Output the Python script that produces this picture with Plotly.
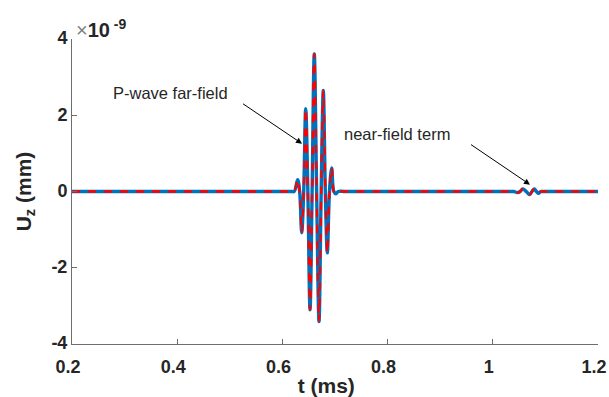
import plotly.graph_objects as go

# time (ms) and vertical displacement (x1e-9 mm)
t_ms = [0.2, 0.60, 0.618, 0.6225, 0.629, 0.6328, 0.6367, 0.6405, 0.6443, 0.6484,
        0.6525, 0.6565, 0.6606, 0.6651, 0.6696, 0.6737, 0.6778, 0.6816, 0.6854, 0.6895,
        0.6937, 0.6978, 0.7019, 0.706, 0.72, 1.00, 1.036, 1.040, 1.047, 1.052,
        1.057, 1.0635, 1.070, 1.0745, 1.079, 1.083, 1.087, 1.091, 1.095, 1.10, 1.2]
uz_analytic = [0, 0, 0, 0, 0.31, 0, -1.08, 0, 2.17, 0,
               -3.1, 0, 3.61, 0, -3.41, 0, 2.65, 0, -1.61, 0,
               0.62, 0, -0.06, 0, 0, 0, 0, 0, -0.03, 0,
               0.07, 0, -0.08, 0, 0.07, 0, -0.05, 0, 0, 0, 0]
uz_numeric = list(uz_analytic)

x_ticks = [0.2, 0.4, 0.6, 0.8, 1.0, 1.2]
x_ticklabels = ["0.2", "0.4", "0.6", "0.8", "1", "1.2"]
y_ticks = [-4, -2, 0, 2, 4]
y_ticklabels = ["-4", "-2", "0", "2", "4"]

FONT = "Liberation Sans, Arial, Helvetica, sans-serif"
AXC = "#6e6e6e"
TXT = "#262626"
NB = "\u00a0"

fig = go.Figure()
fig.add_trace(go.Scatter(x=t_ms, y=uz_analytic, mode="lines",
                         line=dict(color="#0072BD", width=3.4, shape="spline", smoothing=1),
                         showlegend=False, hoverinfo="skip"))
fig.add_trace(go.Scatter(x=t_ms, y=uz_numeric, mode="lines",
                         line=dict(color="#FF0000", width=2.3, dash="8px,8px", shape="spline", smoothing=1),
                         showlegend=False, hoverinfo="skip"))

fig.update_layout(
    width=609, height=397,
    margin=dict(l=72, r=11, t=39, b=53),
    paper_bgcolor="white", plot_bgcolor="white",
    font=dict(family=FONT, color=TXT),
    xaxis=dict(range=[0.2, 1.2], tickvals=x_ticks, ticktext=x_ticklabels,
               ticks="inside", ticklen=5, tickcolor=AXC, tickwidth=1,
               showline=True, linecolor=AXC, linewidth=1, mirror=False,
               showgrid=False, zeroline=False, ticklabeloverflow="allow", automargin=False,
               ticklabelshift=-4, ticklabelstandoff=6,
               tickfont=dict(family=FONT, size=18, color=TXT, weight="bold"),
               title=dict(text="<b>t (ms)" + NB * 3 + "</b>", font=dict(family=FONT, size=21, color=TXT), standoff=2)),
    yaxis=dict(range=[-4, 4], tickvals=y_ticks, ticktext=y_ticklabels,
               ticks="inside", ticklen=5, tickcolor=AXC, tickwidth=1,
               showline=True, linecolor=AXC, linewidth=1, mirror=False,
               showgrid=False, zeroline=False, automargin=False,
               ticklabelshift=-1,
               tickfont=dict(family=FONT, size=18, color=TXT, weight="bold"),
               title=dict(text="<b>U<sub>z</sub> (mm)</b>", font=dict(family=FONT, size=21, color=TXT), standoff=14)),
    annotations=[
        dict(xref="paper", yref="paper", x=0.004, y=1.035, xanchor="left", yanchor="middle",
             showarrow=False,
             text="<span style='color:#808080;font-weight:normal'>×</span><b>10</b><sup><b> -9</b></sup>",
             font=dict(family=FONT, size=20, color=TXT)),
        dict(x=0.6373, y=1.255, ax=0.5251, ay=2.30, xref="x", yref="y", axref="x", ayref="y",
             xanchor="right", yanchor="bottom",
             showarrow=True, arrowhead=2, arrowsize=1.2, arrowwidth=1, arrowcolor="black",
             text="P-wave far-field" + NB * 3, font=dict(family=FONT, size=16.5, color=TXT)),
        dict(x=1.0707, y=0.18, ax=0.9586, ay=1.23, xref="x", yref="y", axref="x", ayref="y",
             xanchor="right", yanchor="bottom",
             showarrow=True, arrowhead=2, arrowsize=1.2, arrowwidth=1, arrowcolor="black",
             text="near-field term" + NB * 4, font=dict(family=FONT, size=16.5, color=TXT)),
    ],
)

fig.write_html("out.html")
